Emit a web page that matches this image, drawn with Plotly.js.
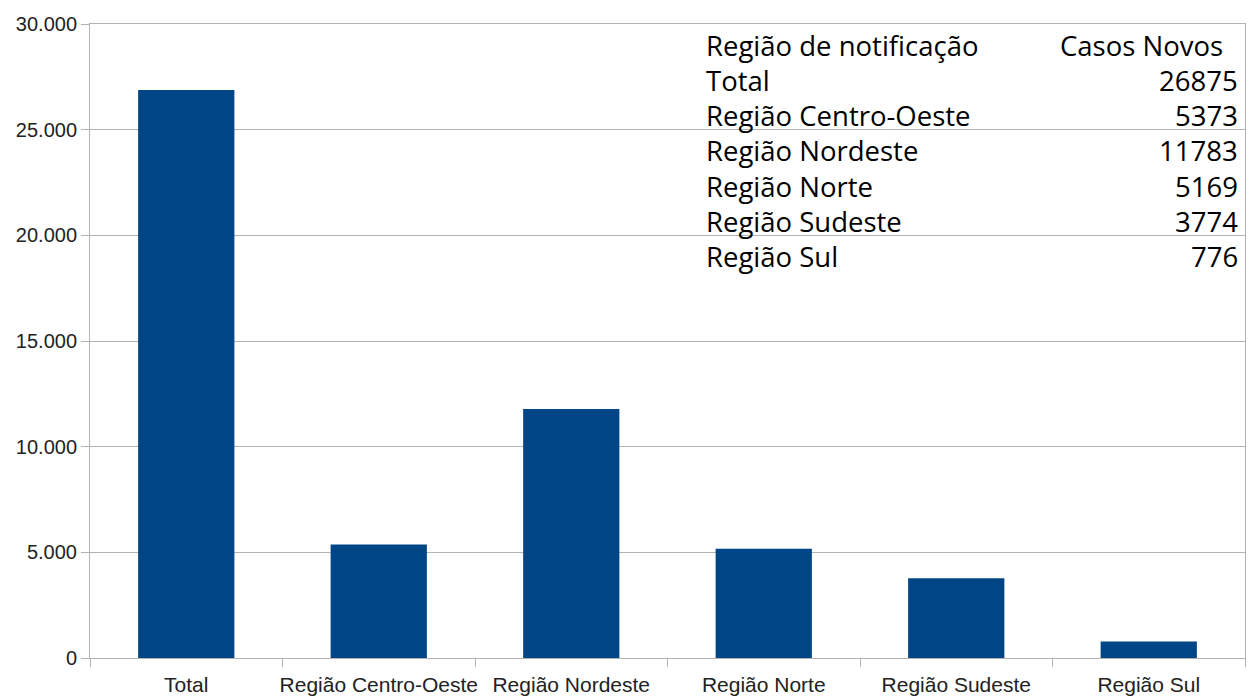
<!DOCTYPE html>
<html><head><meta charset="utf-8">
<script src="https://cdn.plot.ly/plotly-3.0.1.min.js"></script>
<style>html,body{margin:0;padding:0;background:#fff;}#chart{width:1252px;height:699px;}</style>
</head><body><div id="chart"></div>
<script>
const categories = ["Total","Região Centro-Oeste","Região Nordeste","Região Norte","Região Sudeste","Região Sul"];
const casosNovos = [26875, 5373, 11783, 5169, 3774, 776];
const tableHeader = ["Região de notificação","Casos Novos"];
const yTickVals = [0,5000,10000,15000,20000,25000,30000];

const L=90, R=7, T=24, B=41, W=1252, H=699;
const pw=W-L-R, ph=H-T-B;
const px = x => (x-L)/pw;
const py = y => (H-B-y)/ph;

const tableFont = {family:"Open Sans, Noto Sans, sans-serif", size:27.5, color:"#000"};
const annotations = [];
const rowY0 = 45, rowStep = 35.3;
annotations.push({xref:"paper",yref:"paper",x:px(704),y:py(rowY0),xanchor:"left",yanchor:"middle",text:tableHeader[0],showarrow:false,font:tableFont});
annotations.push({xref:"paper",yref:"paper",x:px(1225),y:py(rowY0),xanchor:"right",yanchor:"middle",text:tableHeader[1],showarrow:false,font:tableFont});
categories.forEach((c,i)=>{
  const yy = rowY0 + rowStep*(i+1);
  annotations.push({xref:"paper",yref:"paper",x:px(704),y:py(yy),xanchor:"left",yanchor:"middle",text:c,showarrow:false,font:tableFont});
  annotations.push({xref:"paper",yref:"paper",x:px(1240),y:py(yy),xanchor:"right",yanchor:"middle",text:String(casosNovos[i]),showarrow:false,font:tableFont});
});

const data = [{type:"bar", x:categories, y:casosNovos, marker:{color:"#004586"}, hoverinfo:"x+y"}];
const layout = {
  width:W, height:H, margin:{l:L,r:R,t:T,b:B,pad:0},
  paper_bgcolor:"#fff", plot_bgcolor:"#fff",
  separators:",.",
  showlegend:false, bargap:0.5,
  font:{family:"Liberation Sans, Arial, sans-serif", size:21, color:"#222"},
  xaxis:{type:"category", tickson:"boundaries", ticks:"outside", ticklen:8, tickcolor:"#b3b3b3", tickangle:0,
         ticklabelstandoff:8,
         showline:true, linecolor:"#b3b3b3", linewidth:1, mirror:true, showgrid:false,
         tickfont:{family:"Liberation Sans, Arial, sans-serif", size:21, color:"#222"}, automargin:false},
  yaxis:{range:[0,30000], tickvals:yTickVals, tickformat:",.0f", ticks:"outside", ticklen:8, tickcolor:"#b3b3b3",
         showline:true, linecolor:"#b3b3b3", linewidth:1, mirror:true, showgrid:true, gridcolor:"#b3b3b3", gridwidth:1,
         zeroline:false, tickfont:{family:"Liberation Sans, Arial, sans-serif", size:20, color:"#222"}, automargin:false},
  annotations: annotations
};
Plotly.newPlot("chart", data, layout, {staticPlot:true, displayModeBar:false});
</script></body></html>
